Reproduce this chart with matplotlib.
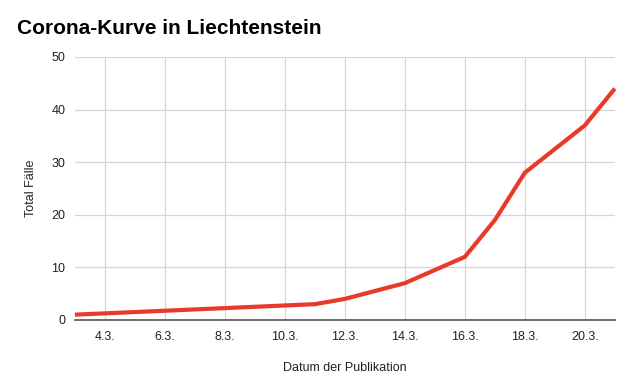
"""Corona-Kurve in Liechtenstein - Fälle nach Datum der Publikation"""

import matplotlib.pyplot as plt

# Tag im März und Gesamtzahl der Fälle
days = [3, 11, 12, 14, 16, 17, 18, 20, 21]
cases = [1, 3, 4, 7, 12, 19, 28, 37, 44]

tick_days = [4, 6, 8, 10, 12, 14, 16, 18, 20]
tick_labels = [f"{d}.3." for d in tick_days]
y_ticks = [0, 10, 20, 30, 40, 50]

plt.rcParams['font.family'] = ['Liberation Sans', 'DejaVu Sans']

fig = plt.figure(figsize=(6.3, 3.85), dpi=100)
ax = fig.add_axes([0.119, 0.169, 0.857, 0.683])

ax.plot(days, cases, color='#e8392a', linewidth=3, solid_capstyle='butt',
        solid_joinstyle='round', zorder=3, clip_on=False)

ax.set_xlim(3, 21)
ax.set_ylim(0, 50)
ax.set_xticks(tick_days)
ax.set_xticklabels(tick_labels)
ax.set_yticks(y_ticks)

ax.grid(True, color='#d6d6d6', linewidth=0.9)
ax.set_axisbelow(True)
for side in ['top', 'right', 'left']:
    ax.spines[side].set_visible(False)
ax.spines['bottom'].set_color('#555555')
ax.spines['bottom'].set_linewidth(1.2)
ax.tick_params(length=0, labelsize=9, colors='#222222')
ax.tick_params(axis='x', pad=8)
ax.tick_params(axis='y', pad=7)

ax.set_xlabel('Datum der Publikation', fontsize=9, color='#222222', labelpad=14)
ax.set_ylabel('Total Fälle', fontsize=9, color='#222222', labelpad=10)

fig.text(0.027, 0.925, 'Corona-Kurve in Liechtenstein', fontsize=15,
         fontweight='bold', va='center', ha='left')

fig.savefig('out.png', dpi=100)
